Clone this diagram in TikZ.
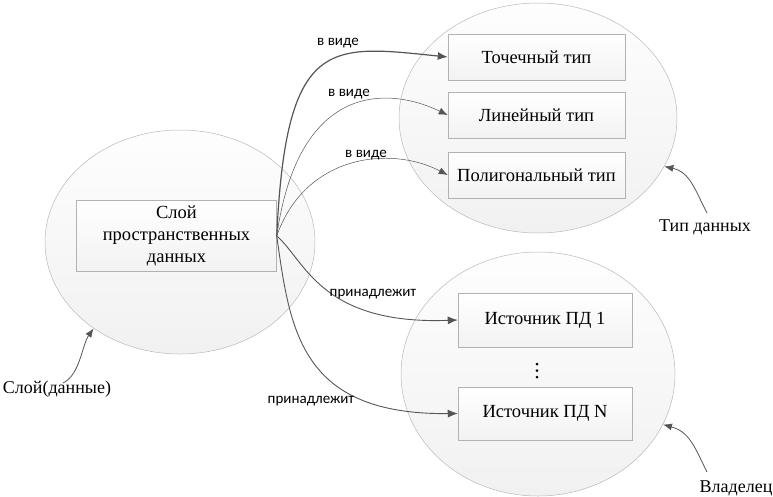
\documentclass[tikz,border=0pt]{standalone}
\usepackage{fontspec}
\setmainfont{Liberation Serif}
\newfontfamily\labfont{Carlito}
\usetikzlibrary{arrows.meta,shapes.geometric}
\definecolor{lineg}{HTML}{555555}
\tikzset{
  x=1pt, y=-1pt,
  cloud/.style={ellipse, draw=gray!55, line width=0.5pt, top color=gray!1, bottom color=gray!11, inner sep=0pt},
  boxnode/.style={rectangle, draw=gray!60, line width=0.5pt, top color=white, bottom color=gray!10, inner sep=0pt, align=center, font=\fontsize{18.5}{22}\selectfont},
  conn/.style={draw=lineg, line width=0.5pt, -{Latex[length=9pt,width=7pt]}},
  connthick/.style={draw=lineg, line width=1.2pt, -{Latex[length=10pt,width=8pt]}},
  lab/.style={font=\labfont\fontsize{15}{17}\selectfont, text=black, inner sep=0pt},
  outlab/.style={font=\fontsize{18}{20}\selectfont, inner sep=0pt},
  pointer/.style={draw=lineg, line width=0.8pt, -{Latex[length=9pt,width=7pt]}}
}
\begin{document}
\begin{tikzpicture}
\useasboundingbox (0,0) rectangle (773,496);
% ellipses
\node[cloud, minimum width=270pt, minimum height=224pt] (ellL) at (180,242) {};
\node[cloud, minimum width=278pt, minimum height=230pt] (ellT) at (538,118) {};
\node[cloud, minimum width=274pt, minimum height=244pt] (ellB) at (538,374) {};
% boxes
\node[boxnode, minimum width=200pt, minimum height=71pt] (layer) at (176.5,236) {Слой\\пространственных\\данных};
\node[boxnode, minimum width=177pt, minimum height=46pt] (t1) at (536.5,57) {Точечный тип};
\node[boxnode, minimum width=177pt, minimum height=46pt] (t2) at (536.5,115) {Линейный тип};
\node[boxnode, minimum width=177pt, minimum height=46pt] (t3) at (536.5,175) {Полигональный тип};
\node[boxnode, minimum width=174pt, minimum height=54pt] (s1) at (545,320) {Источник ПД 1};
\node[boxnode, minimum width=174pt, minimum height=53pt] (sN) at (545,413.5) {Источник ПД N};
% dots
\fill (537,364) circle (1.5pt);
\fill (537,370.5) circle (1.5pt);
\fill (537,377) circle (1.5pt);
% connectors
\draw[connthick] (layer.east) .. controls (286,35) and (330,45) .. (t1.west);
\draw[conn] (layer.east) .. controls (298,85) and (385,85) .. (t2.west);
\draw[conn] (layer.east) .. controls (305,155) and (390,145) .. (t3.west);
\draw[connthick, line width=0.9pt] (layer.east) .. controls (305,260) and (320,325) .. (s1.west);
\draw[connthick, line width=0.9pt] (layer.east) .. controls (290,330) and (300,415) .. (sN.west);
% connector labels
\node[lab] (l1) at (338,43) {в виде};
\node[lab] (l2) at (349,94) {в виде};
\node[lab] (l3) at (366,155) {в виде};
\node[lab] (l4) at (373,294) {принадлежит};
\node[lab] (l5) at (311,401) {принадлежит};
% outer labels
\node[outlab] (typelab) at (705,227) {Тип данных};
\node[outlab] (ownlab) at (736,488) {Владелец};
\node[outlab] (layerlab) at (57,389) {Слой(данные)};
\coordinate (pT) at (707,213);
\coordinate (pO) at (707,472);
\coordinate (pL) at (63,383);
\draw[pointer] (pT) .. controls (695,190) and (690,172) .. (ellT.-21);
\draw[pointer] (pO) .. controls (695,448) and (690,432) .. (ellB.-22);
\draw[pointer] (pL) .. controls (80,375) and (82,345) .. (ellL.-135);
\end{tikzpicture}
\end{document}
